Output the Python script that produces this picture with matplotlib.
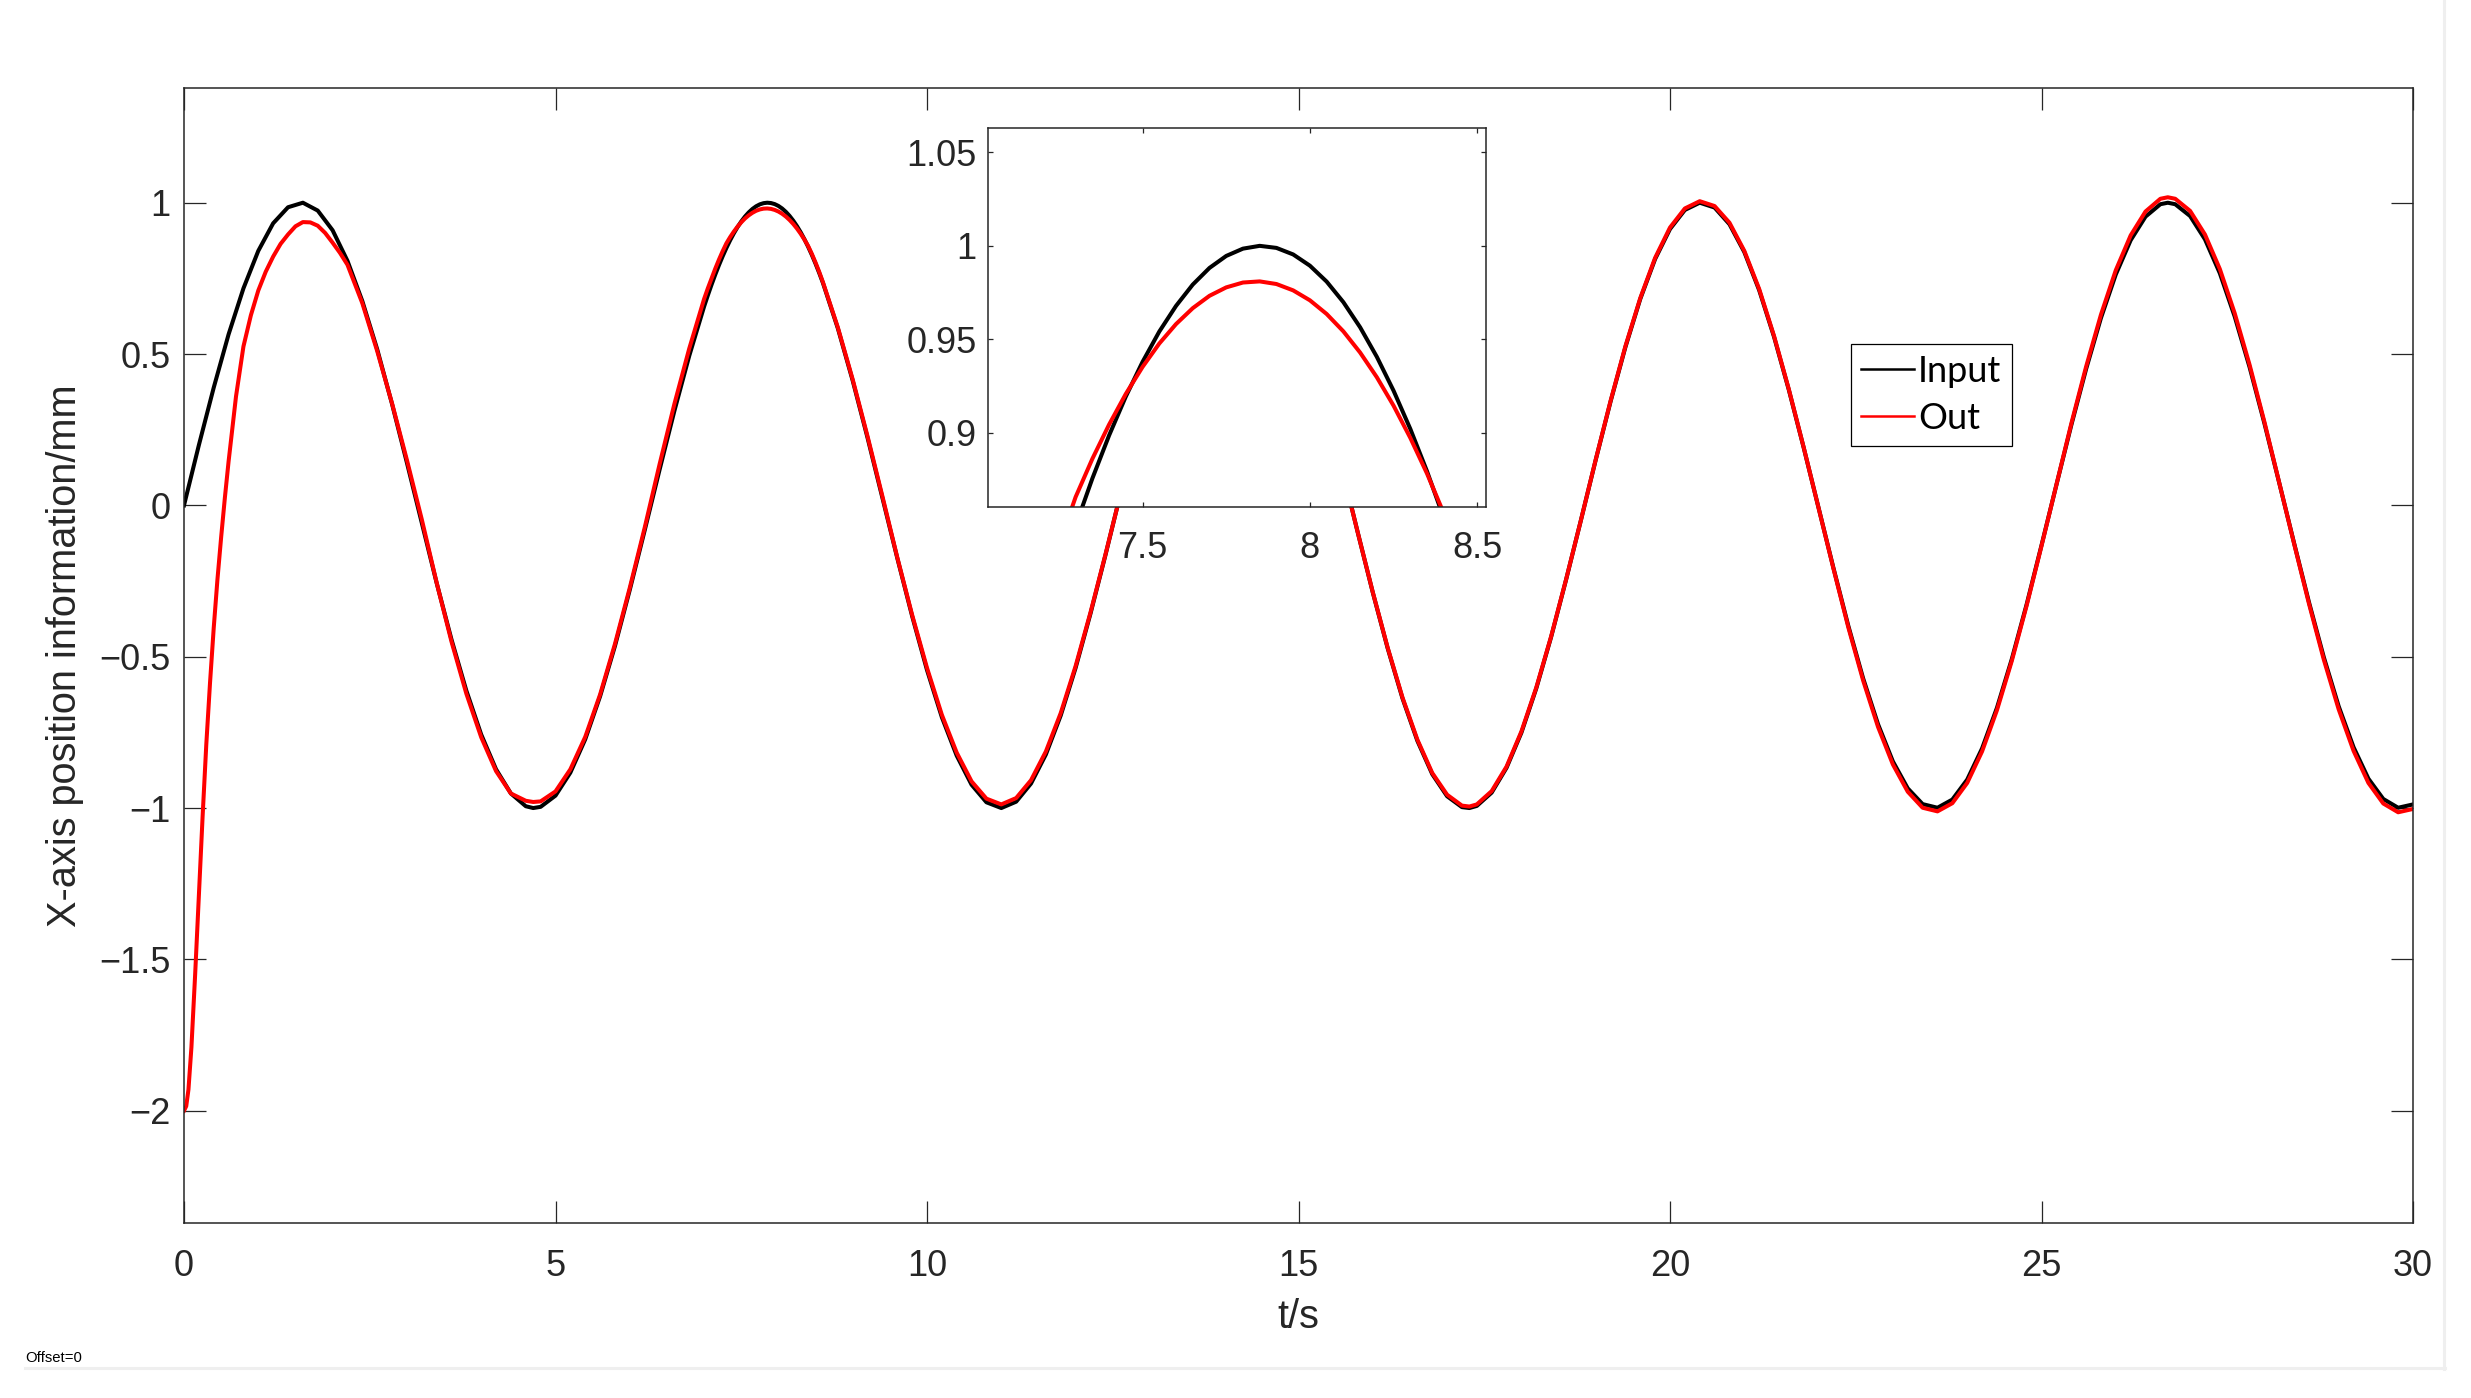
import numpy as np
import matplotlib.pyplot as plt
from matplotlib.lines import Line2D

# ---- data ----
# time grid (s); start differs for the two series, the rest is shared
t_in_head = [0.0, 0.2, 0.4, 0.6, 0.8, 1.0, 1.2, 1.4, 1.6, 1.8, 2.0, 2.2]
t_out_head = [0.0, 0.03, 0.06, 0.1, 0.15, 0.2, 0.25, 0.3, 0.35, 0.4, 0.45, 0.5, 0.55, 0.6,
              0.7, 0.8, 0.9, 1.0, 1.1, 1.2, 1.3, 1.4, 1.5, 1.6, 1.7, 1.8, 1.9, 2.0, 2.1, 2.2]
t_common = [2.4, 2.6, 2.8, 3.0, 3.2, 3.4, 3.6, 3.8, 4.0, 4.2, 4.4, 4.6, 4.7, 4.8, 5.0, 5.2,
            5.4, 5.6, 5.8, 6.0, 6.2, 6.4, 6.6, 6.8, 7.0,
            7.05, 7.1, 7.15, 7.2, 7.25, 7.3, 7.35, 7.4, 7.45, 7.5, 7.55, 7.6, 7.65, 7.7, 7.75,
            7.8, 7.85, 7.9, 7.95, 8.0, 8.05, 8.1, 8.15, 8.2, 8.25, 8.3, 8.35, 8.4, 8.45, 8.5, 8.55,
            8.6, 8.8, 9.0, 9.2, 9.4,
            9.6, 9.8, 10.0, 10.2, 10.4, 10.6, 10.8, 11.0, 11.2, 11.4, 11.6, 11.8, 12.0, 12.2, 12.4,
            12.6, 12.8, 13.0, 13.2, 13.4, 13.6, 13.8, 14.0, 14.1, 14.2, 14.4, 14.6, 14.8, 15.0,
            15.2, 15.4, 15.6,
            15.8, 16.0, 16.2, 16.4, 16.6, 16.8, 17.0, 17.2, 17.3, 17.4, 17.6, 17.8, 18.0, 18.2,
            18.4, 18.6, 18.8,
            19.0, 19.2, 19.4, 19.6, 19.8, 20.0, 20.2, 20.4, 20.6, 20.8, 21.0, 21.2, 21.4, 21.6, 21.8,
            22.0, 22.2, 22.4, 22.6, 22.8, 23.0, 23.2, 23.4, 23.6, 23.8, 24.0, 24.2, 24.4, 24.6,
            24.8, 25.0,
            25.2, 25.4, 25.6, 25.8, 26.0, 26.2, 26.4, 26.6, 26.7, 26.8, 27.0, 27.2, 27.4, 27.6,
            27.8, 28.0, 28.2,
            28.4, 28.6, 28.8, 29.0, 29.2, 29.4, 29.6, 29.8, 30.0]

# Input (mm)
input_head = [0.000, 0.199, 0.389, 0.565, 0.717, 0.841, 0.932, 0.985, 1.000, 0.974, 0.909, 0.808]
input_common = [0.675, 0.516, 0.335, 0.141, -0.058, -0.256, -0.443, -0.612, -0.757, -0.872,
                -0.952, -0.994, -1.000, -0.996, -0.959, -0.883, -0.773, -0.631, -0.465, -0.279,
                -0.083, 0.117, 0.312, 0.494, 0.6570,
                0.6938, 0.7290, 0.7623, 0.7937, 0.8231, 0.8504, 0.8757, 0.8987, 0.9195, 0.9380,
                0.9542, 0.9679, 0.9793, 0.9882, 0.9946, 0.9985, 1.0000, 0.9989, 0.9954, 0.9894,
                0.9809, 0.9699, 0.9565, 0.9407, 0.9226, 0.9022, 0.8795, 0.8546, 0.8276, 0.7985,
                0.7674,
                0.7344, 0.585, 0.412, 0.223, 0.025,
                -0.174, -0.366, -0.544, -0.700, -0.827, -0.923, -0.981, -1.000, -0.979, -0.919,
                -0.823, -0.694, -0.537, -0.358, -0.166,
                0.034, 0.232, 0.420, 0.592, 0.740, 0.859, 0.944, 0.991, 0.999, 0.998, 0.966,
                0.895, 0.788, 0.650, 0.486, 0.303, 0.108,
                -0.092, -0.288, -0.472, -0.638, -0.778, -0.888, -0.961, -0.997, -1.000, -0.993,
                -0.949, -0.867, -0.751, -0.605, -0.435, -0.247, -0.050,
                0.150, 0.343, 0.523, 0.682, 0.814, 0.913, 0.976, 1.000, 0.984, 0.929, 0.837,
                0.711, 0.557, 0.381, 0.190,
                -0.009, -0.207, -0.398, -0.572, -0.723, -0.846, -0.935, -0.987, -0.999, -0.972,
                -0.906, -0.803, -0.669, -0.508, -0.327, -0.132,
                0.067, 0.264, 0.450, 0.619, 0.763, 0.876, 0.954, 0.995, 1.000, 0.995, 0.956,
                0.879, 0.767, 0.624, 0.457, 0.271, 0.074,
                -0.125, -0.320, -0.502, -0.664, -0.799, -0.903, -0.970, -0.999, -0.988]

# Out (mm)
out_head = [-2.000, -1.985, -1.930, -1.790, -1.550, -1.290, -1.030, -0.790, -0.587, -0.405,
            -0.245, -0.105, 0.025, 0.145, 0.360, 0.525, 0.628, 0.710, 0.772, 0.822, 0.864,
            0.895, 0.922, 0.936, 0.935, 0.924, 0.900, 0.868, 0.834, 0.795]
out_common = [0.668, 0.510, 0.337, 0.150, -0.046, -0.255, -0.450, -0.622, -0.766, -0.878,
              -0.952, -0.976, -0.980, -0.978, -0.945, -0.872, -0.765, -0.625, -0.458, -0.272,
              -0.074, 0.135, 0.335, 0.518, 0.682,
              0.717, 0.750, 0.782, 0.812, 0.840, 0.8658, 0.8862, 0.9045, 0.9209, 0.9353,
              0.9478, 0.9582, 0.9667, 0.9733, 0.9778, 0.9804, 0.9810, 0.9796, 0.9762, 0.9709,
              0.9636, 0.9543, 0.9430, 0.9298, 0.9146, 0.8974, 0.8783, 0.8571, 0.831, 0.802,
              0.771,
              0.737, 0.588, 0.416, 0.228, 0.030,
              -0.172, -0.362, -0.537, -0.692, -0.817, -0.912, -0.969, -0.988, -0.967, -0.908,
              -0.813, -0.686, -0.531, -0.354, -0.164,
              0.034, 0.231, 0.418, 0.589, 0.736, 0.855, 0.939, 0.986, 0.994, 0.993, 0.961,
              0.891, 0.784, 0.647, 0.484, 0.301, 0.107,
              -0.092, -0.287, -0.470, -0.635, -0.774, -0.884, -0.956, -0.992, -0.995, -0.988,
              -0.944, -0.863, -0.747, -0.602, -0.433, -0.246, -0.050,
              0.151, 0.345, 0.526, 0.685, 0.818, 0.918, 0.981, 1.005, 0.989, 0.934, 0.841,
              0.715, 0.560, 0.383, 0.191,
              -0.009, -0.209, -0.403, -0.579, -0.732, -0.856, -0.946, -0.999, -1.011, -0.984,
              -0.917, -0.813, -0.677, -0.514, -0.331, -0.134,
              0.068, 0.269, 0.458, 0.630, 0.777, 0.892, 0.971, 1.013, 1.018, 1.013, 0.973,
              0.895, 0.781, 0.635, 0.465, 0.276, 0.075,
              -0.127, -0.325, -0.510, -0.674, -0.811, -0.917, -0.985, -1.014, -1.003]

series_names = ['Input', 'Out']

x_ticks = [0, 5, 10, 15, 20, 25, 30]
y_ticks = [-2, -1.5, -1, -0.5, 0, 0.5, 1]
y_tick_labels = ['\u22122', '\u22121.5', '\u22121', '\u22120.5', '0', '0.5', '1']
zoom_x_ticks = [7.5, 8, 8.5]
zoom_x_labels = ['7.5', '8', '8.5']
zoom_y_ticks = [0.9, 0.95, 1, 1.05]
zoom_y_labels = ['0.9', '0.95', '1', '1.05']

t_in = t_in_head + t_common
x_in = input_head + input_common
t_out = t_out_head + t_common
x_out = out_head + out_common

# ---- figure ----
plt.rcParams['font.family'] = ['Liberation Sans', 'DejaVu Sans']
escuro = '#262626'
W, H = 2471, 1398

fig = plt.figure(figsize=(W / 100, H / 100), dpi=100)
fig.patch.set_facecolor('white')

# eixo principal
ax = fig.add_axes([184 / W, (H - 1223) / H, 2229 / W, 1135 / H])
ax.plot(t_in, x_in, color='black', lw=2.9)
ax.plot(t_out, x_out, color='#ff0000', lw=2.9)
ax.set_xlim(0, 30)
ax.set_ylim(-2.371, 1.379)
ax.set_xticks(x_ticks)
ax.set_xticklabels([str(v) for v in x_ticks])
ax.set_yticks(y_ticks)
ax.set_yticklabels(y_tick_labels)
ax.tick_params(direction='in', length=16, width=0.9, top=True, right=True,
               labelsize=26, colors=escuro)
ax.tick_params(axis='x', pad=19)
ax.tick_params(axis='y', pad=9.5)
for s in ax.spines.values():
    s.set_linewidth(1.1)
    s.set_color(escuro)
ax.set_xlabel('t/s', fontsize=28.6, color=escuro, labelpad=10)
ax.set_ylabel('X-axis position information/mm', fontsize=28.6, color=escuro, labelpad=11)

handles = [Line2D([], [], color='black', lw=1.8), Line2D([], [], color='#ff0000', lw=1.8)]
leg = ax.legend(handles, series_names, loc='upper left', bbox_to_anchor=(0.7477, 0.7742),
                borderaxespad=0, fancybox=False, edgecolor='black', framealpha=1,
                prop={'family': 'Lato', 'size': 26}, handlelength=1.45, handletextpad=0.12,
                borderpad=0.3, labelspacing=0.38)
leg.get_frame().set_linewidth(0.9)

# detalhe (zoom no segundo pico)
axz = fig.add_axes([987.6 / W, (H - 507.3) / H, 498 / W, 379 / H])
axz.set_facecolor('white')
axz.plot(t_in, x_in, color='black', lw=2.9)
axz.plot(t_out, x_out, color='#ff0000', lw=2.9)
axz.set_xlim(7.037, 8.525)
axz.set_ylim(0.8603, 1.0628)
axz.set_xticks(zoom_x_ticks)
axz.set_xticklabels(zoom_x_labels)
axz.set_yticks(zoom_y_ticks)
axz.set_yticklabels(zoom_y_labels)
axz.tick_params(direction='in', length=3.6, width=0.9, top=True, right=True,
                labelsize=26, colors=escuro)
axz.tick_params(axis='x', pad=17)
axz.tick_params(axis='y', pad=8)
for s in axz.spines.values():
    s.set_linewidth(1.1)
    s.set_color(escuro)

# rodapé
fig.text(25.7 / W, 1 - 1358 / H, 'Offset=0', fontsize=10.7, va='center', color='black')
fig.add_artist(Line2D([25 / W, 2445 / W], [1 - 1368.3 / H] * 2, color='#efefef', lw=2.2,
                      transform=fig.transFigure))
fig.add_artist(Line2D([2444 / W] * 2, [1 - 1369 / H, 1.0], color='#efefef', lw=2.2,
                      transform=fig.transFigure))

fig.savefig('out.png', dpi=100)
